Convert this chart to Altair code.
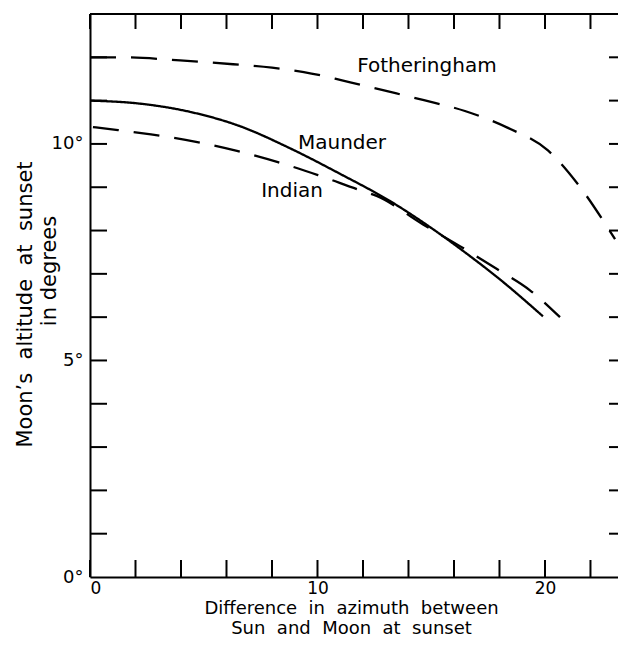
import altair as alt
import pandas as pd

# --- data ---
maunder_x = [0, 2.2, 4.4, 6.59, 8.79, 10.99, 13.19, 15.0, 16.5, 18.0, 19.91]
maunder_y = [11.0, 10.93, 10.74, 10.41, 9.90, 9.31, 8.68, 8.06, 7.49, 6.88, 6.02]

indian_x = [0.13, 1.23, 2.68, 4.66, 6.46, 8.26, 10.02, 11.82, 12.6, 14.64, 16.26, 17.89, 19.34, 20.66]
indian_y = [10.39, 10.32, 10.22, 10.05, 9.84, 9.58, 9.28, 8.94, 8.80, 8.14, 7.64, 7.11, 6.62, 6.0]

foth_x = [0, 1.32, 3.96, 6.29, 8.0, 9.4, 11.08, 12.88, 14.68, 16.48, 18.37, 20.13, 21.45, 22.68, 23.08]
foth_y = [12.0, 12.0, 11.93, 11.84, 11.76, 11.66, 11.47, 11.24, 11.01, 10.76, 10.37, 9.85, 9.07, 8.13, 7.80]

label_text = ["Fotheringham", "Maunder", "Indian"]
label_x = [14.81, 11.08, 8.88]
label_y = [11.81, 10.03, 8.91]

x_tick_values = [0, 2, 4, 6, 8, 10, 12, 14, 16, 18, 20, 22]
y_tick_values = [1, 2, 3, 4, 5, 6, 7, 8, 9, 10, 11, 12]
x_label_values = [0, 10, 20]
y_label_values = [0, 5, 10]

X_DOMAIN = [0, 23.21]
Y_DOMAIN = [0, 13]
W, H = 528, 563
FONT = "DejaVu Sans"
SP = " \u00a0"  # wide word gap

rows = []
for name, xs, ys in [("Maunder", maunder_x, maunder_y),
                     ("Indian", indian_x, indian_y),
                     ("Fotheringham", foth_x, foth_y)]:
    for i, (a, b) in enumerate(zip(xs, ys)):
        rows.append({"series": name, "x": a, "y": b, "order": i})
lines_df = pd.DataFrame(rows)
labels_df = pd.DataFrame({"label": label_text, "x": label_x, "y": label_y})
xt_df = pd.DataFrame({"x": x_tick_values})
yt_df = pd.DataFrame({"y": y_tick_values})
ytitle2_df = pd.DataFrame({"t": ["in degrees"]})
one_df = pd.DataFrame({"a": [0]})

xscale = alt.Scale(domain=X_DOMAIN, nice=False, zero=False)
yscale = alt.Scale(domain=Y_DOMAIN, nice=False, zero=False)

x_axis = alt.Axis(
    orient="bottom",
    values=x_label_values, grid=False, ticks=False,
    domain=True, domainColor="black", domainWidth=2,
    labelFontSize=17, labelFont=FONT, labelColor="black", labelPadding=3,
    title=[SP.join(["Difference", "in", "azimuth", "between"]),
           SP.join(["Sun", "and", "Moon", "at", "sunset"])],
    titleFont=FONT, titleFontSize=18, titleFontWeight="normal", titleColor="black",
    titleX=261, titleY=31, titleBaseline="middle", titleAlign="center",
    titleLineHeight=20,
)
y_axis = alt.Axis(
    orient="left",
    values=y_label_values, grid=False, ticks=False,
    domain=True, domainColor="black", domainWidth=2,
    labelExpr="datum.value + '°'",
    labelFontSize=18, labelFont=FONT, labelColor="black", labelPadding=7,
    title=SP.join(["Moon\u2019s", "altitude", "at", "sunset"]),
    titleFont=FONT, titleFontSize=21, titleFontWeight="normal", titleColor="black",
    titleX=-65, titleY=290, titleBaseline="middle", titleAlign="center",
    titleAngle=270,
)

lines = alt.Chart(lines_df).mark_line(color="black", strokeWidth=2.3, interpolate="monotone").encode(
    x=alt.X("x:Q", scale=xscale, axis=x_axis),
    y=alt.Y("y:Q", scale=yscale, axis=y_axis),
    detail="series:N",
    order="order:Q",
    strokeDash=alt.StrokeDash(
        "series:N",
        scale=alt.Scale(domain=["Maunder", "Indian", "Fotheringham"],
                        range=[[1, 0], [26, 15], [26, 15]]),
        legend=None,
    ),
)

texts = alt.Chart(labels_df).mark_text(fontSize=20, font=FONT, color="black",
                                       align="center", baseline="middle").encode(
    x=alt.X("x:Q", scale=xscale),
    y=alt.Y("y:Q", scale=yscale),
    text="label:N",
)

ytitle2 = alt.Chart(ytitle2_df).mark_text(fontSize=21, font=FONT, color="black",
                                          align="center", baseline="middle", angle=270).encode(
    x=alt.value(-40), y=alt.value(257), text="t:N")

tick_style = dict(color="black", strokeWidth=2)
top_frame = alt.Chart(one_df).mark_rule(**tick_style).encode(
    x=alt.value(0), x2=alt.value(W), y=alt.value(0))
bottom_ticks = alt.Chart(xt_df).mark_rule(**tick_style).encode(
    x=alt.X("x:Q", scale=xscale), y=alt.value(H), y2=alt.value(H - 17))
top_ticks = alt.Chart(xt_df).mark_rule(**tick_style).encode(
    x=alt.X("x:Q", scale=xscale), y=alt.value(0), y2=alt.value(15))
left_ticks = alt.Chart(yt_df).mark_rule(**tick_style).encode(
    y=alt.Y("y:Q", scale=yscale), x=alt.value(0), x2=alt.value(17))
right_ticks = alt.Chart(yt_df).mark_rule(**tick_style).encode(
    y=alt.Y("y:Q", scale=yscale), x=alt.value(W), x2=alt.value(W - 9))

chart = alt.layer(lines, texts, ytitle2, top_frame, bottom_ticks, top_ticks,
                  left_ticks, right_ticks).properties(
    width=W, height=H,
    autosize=alt.AutoSizeParams(type="none"),
    padding={"left": 82, "top": 6, "right": 0, "bottom": 60},
    background="white",
).configure_view(stroke=None)

chart.save("out.html", embed_options={"renderer": "svg", "actions": False})
